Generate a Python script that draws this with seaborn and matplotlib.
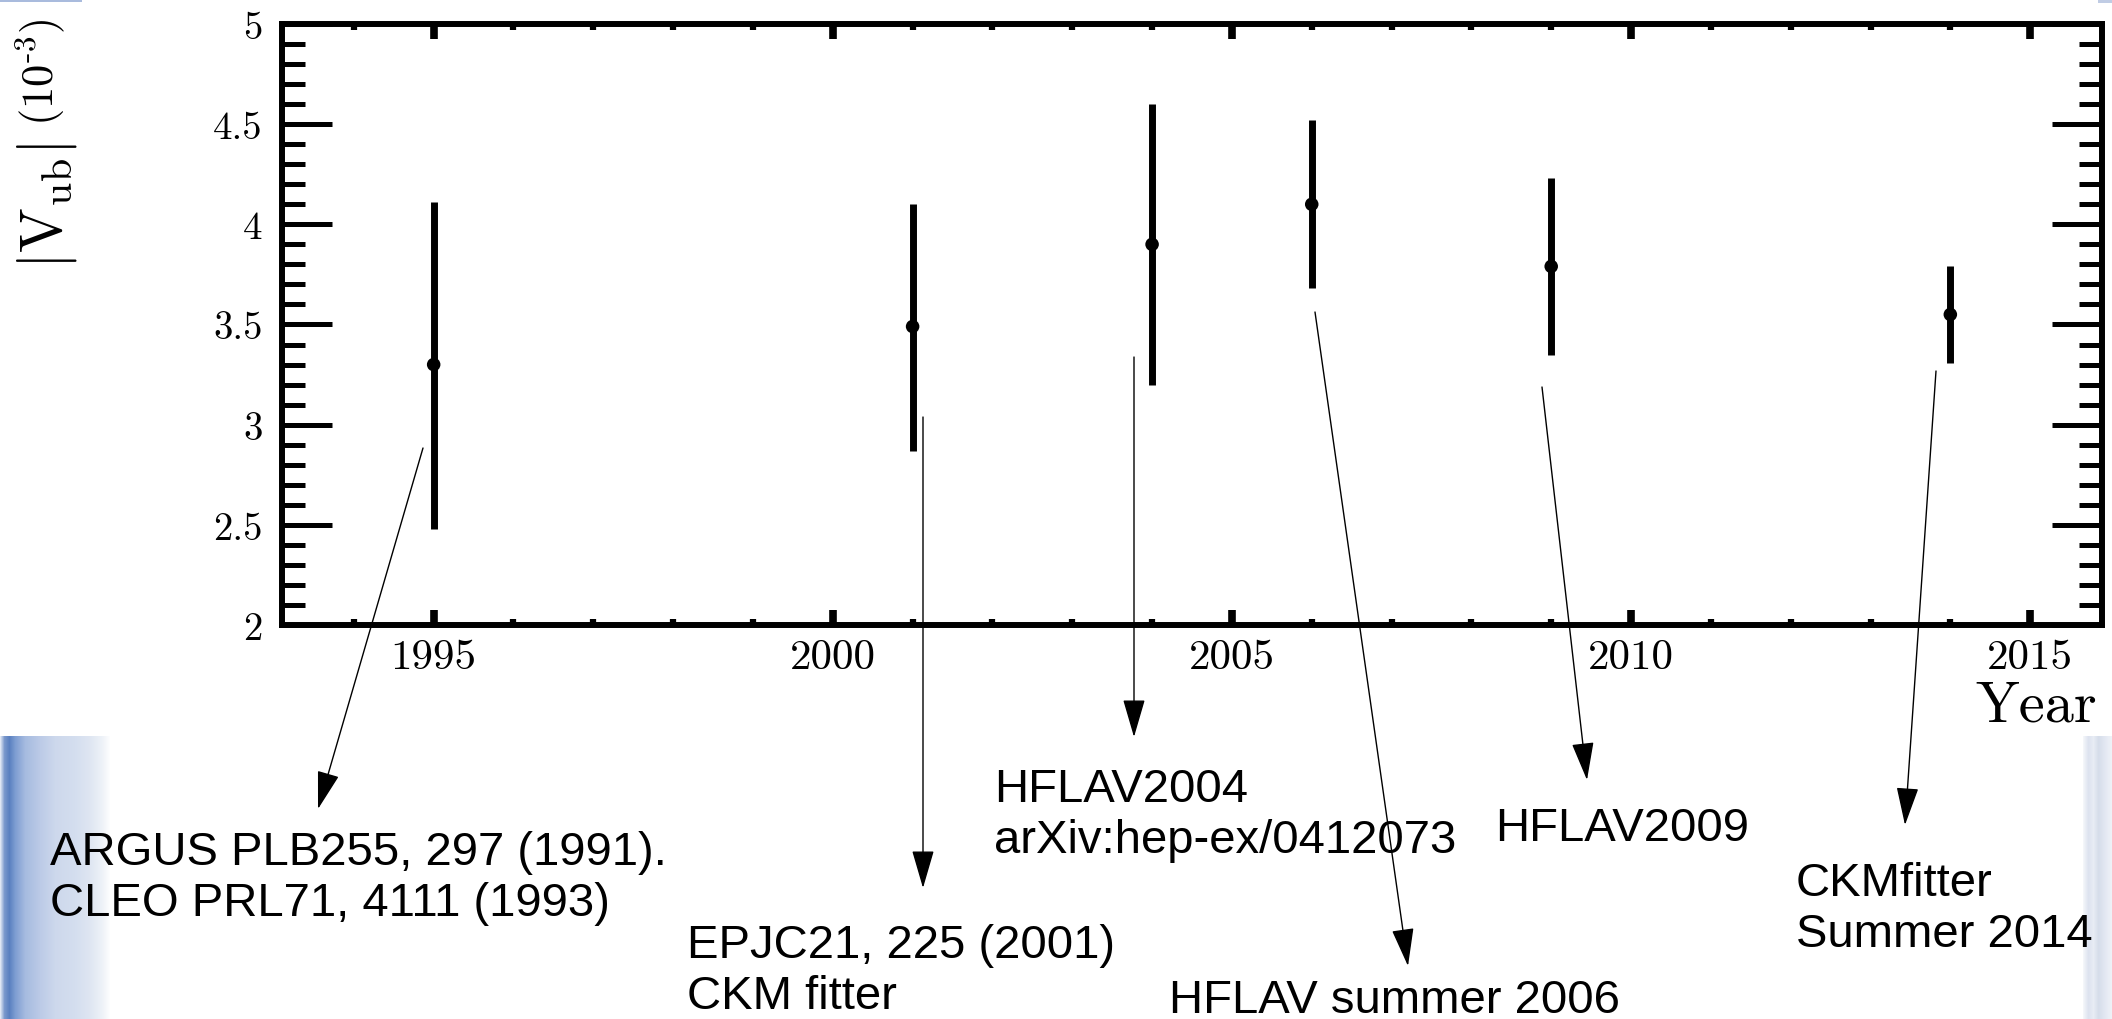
import numpy as np
import pandas as pd
import matplotlib
matplotlib.use("Agg")
import matplotlib.pyplot as plt
from matplotlib.ticker import MultipleLocator, FixedLocator
import seaborn as sns

# ---------------- data ----------------
years = [1995, 2001, 2004, 2006, 2009, 2014]
vub = [3.30, 3.49, 3.90, 4.10, 3.79, 3.55]
err_low = [0.82, 0.62, 0.70, 0.42, 0.44, 0.24]
err_high = [0.81, 0.61, 0.70, 0.42, 0.44, 0.24]

x_ticks = [1995, 2000, 2005, 2010, 2015]
x_tick_labels = ["1995", "2000", "2005", "2010", "2015"]
y_ticks = [2, 2.5, 3, 3.5, 4, 4.5, 5]
y_tick_labels = ["2", "2.5", "3", "3.5", "4", "4.5", "5"]

notes = [
    "ARGUS PLB255, 297 (1991).\nCLEO PRL71, 4111 (1993)",
    "EPJC21, 225 (2001)\nCKM fitter",
    "HFLAV2004\narXiv:hep-ex/0412073",
    "HFLAV summer 2006",
    "HFLAV2009",
    "CKMfitter\nSummer 2014",
]

# layout (figure pixels, measured from top-left; y = baseline of last line)
W, H = 2112, 1020
note_pos = [(50, 916), (687, 1009), (994, 853), (1169, 1013), (1495, 841), (1796, 947)]
arrow_start = [(423, 449), (923, 418), (1134, 358), (1315, 313), (1542, 388), (1936, 372)]
arrow_tip = [(318, 810), (923, 889), (1134, 738), (1408, 967), (1587, 781), (1905, 826)]

df = pd.DataFrame({"year": years, "vub": vub, "lo": err_low, "hi": err_high})

# ---------------- style ----------------
sns.set_theme(style="white")
plt.rcParams["font.family"] = ["Liberation Sans", "DejaVu Sans"]
plt.rcParams["mathtext.fontset"] = "cm"

fig = plt.figure(figsize=(W / 100, H / 100), dpi=100)
fig.patch.set_facecolor("white")

# slide decorations (background gradient bars)
def hex2rgb(h):
    h = h.lstrip("#")
    return [int(h[i:i + 2], 16) / 255 for i in (0, 2, 4)]

left_stops_x = [0, 4, 9, 15, 25, 40, 55, 75, 90, 102, 110]
left_stops_c = ["#dfe6f3", "#7a98cc", "#5a80c0", "#7e9ed2", "#a6bbe0", "#bccbe7",
                "#cdd8ec", "#d4deef", "#dfe6f2", "#eef2f8", "#ffffff"]
xs = np.arange(110)
cols = np.array([hex2rgb(c) for c in left_stops_c])
grad = np.stack([np.interp(xs, left_stops_x, cols[:, k]) for k in range(3)], axis=-1)
img = np.repeat(grad[None, :, :], 10, axis=0)
dax = fig.add_axes([0, 0, 110 / W, 283 / H], zorder=-1)
dax.imshow(img, aspect="auto", extent=[0, 1, 0, 1])
dax.axis("off")

right_stops_x = [0, 5, 10, 15, 20, 25, 29]
right_stops_c = ["#f4f6fa", "#dde3ef", "#e8ecf4", "#d6ddea", "#dfe5f0", "#e9edf5", "#f0f3f8"]
xs2 = np.arange(29)
cols2 = np.array([hex2rgb(c) for c in right_stops_c])
grad2 = np.stack([np.interp(xs2, right_stops_x, cols2[:, k]) for k in range(3)], axis=-1)
img2 = np.repeat(grad2[None, :, :], 10, axis=0)
dax2 = fig.add_axes([2083 / W, 0, 29 / W, 283 / H], zorder=-1)
dax2.imshow(img2, aspect="auto", extent=[0, 1, 0, 1])
dax2.axis("off")

fig.add_artist(plt.Rectangle((0, 1 - 3 / H), 82 / W, 3 / H, transform=fig.transFigure,
                             facecolor="#a9bbdd", edgecolor="none", zorder=-1))
fig.add_artist(plt.Rectangle((2098 / W, 1 - 4 / H), 14 / W, 4 / H, transform=fig.transFigure,
                             facecolor="#c0cce4", edgecolor="none", zorder=-1))

# ---------------- main axes ----------------
ax = fig.add_axes([282 / W, (H - 626) / H, (2102 - 282) / W, (626 - 25) / H])
ax.set_facecolor("white")

ax.errorbar(df["year"], df["vub"], yerr=[df["lo"], df["hi"]], fmt="none",
            ecolor="black", elinewidth=5, capsize=0, zorder=2)
sns.scatterplot(data=df, x="year", y="vub", ax=ax, color="black", s=95,
                edgecolor="none", linewidth=0, zorder=3, legend=False)
ax.set_xlabel("")
ax.set_ylabel("")

ax.set_xlim(1993.1, 2015.9)
ax.set_ylim(2, 5)
ax.xaxis.set_major_locator(FixedLocator(x_ticks))
ax.yaxis.set_major_locator(FixedLocator(y_ticks))
ax.set_xticklabels(x_tick_labels, fontfamily="cmr10", fontsize=31)
ax.set_yticklabels(y_tick_labels, fontfamily="cmr10", fontsize=28)
ax.xaxis.set_minor_locator(MultipleLocator(1))
ax.yaxis.set_minor_locator(MultipleLocator(0.1))

ax.tick_params(which="both", direction="in", top=True, right=True,
               bottom=True, left=True, colors="black")
ax.tick_params(axis="x", which="major", length=11, width=5.5, pad=10)
ax.tick_params(axis="x", which="minor", length=4.5, width=4.5)
ax.tick_params(axis="y", which="major", length=36, width=3.6, pad=14)
ax.tick_params(axis="y", which="minor", length=16.5, width=3.6)
for sp in ax.spines.values():
    sp.set_linewidth(4.3)
    sp.set_color("black")

# axis labels (y label in two pieces to match the relative sizes)
fig.text(47 / W, 1 - 206 / H, r"$\mathbf{|}\mathrm{V}_{\mathrm{ub}}\mathbf{|}$",
         rotation=90, va="center", ha="center", fontsize=43, color="black")
fig.text(40 / W, 1 - 72 / H, r"$(10^{\text{-}3})$",
         rotation=90, va="center", ha="center", fontsize=32, color="black")
fig.text(2097 / W, 1 - 722 / H, "Year", family="cmr10", fontsize=42,
         ha="right", va="baseline", color="black")

# annotations
for txt, (tx, ty) in zip(notes, note_pos):
    fig.text(tx / W, 1 - ty / H, txt, fontsize=34, ha="left", va="baseline",
             color="black", family=["Liberation Sans", "DejaVu Sans"])

for (sx, sy), (ex, ey) in zip(arrow_start, arrow_tip):
    ax.annotate("", xy=(ex, H - ey), xycoords="figure pixels",
                xytext=(sx, H - sy), textcoords="figure pixels",
                arrowprops=dict(arrowstyle="-|>,head_length=1.2,head_width=0.35",
                                mutation_scale=20, color="black", lw=1.0,
                                shrinkA=0, shrinkB=0),
                annotation_clip=False)

fig.savefig("out.png", dpi=100, facecolor="white")
